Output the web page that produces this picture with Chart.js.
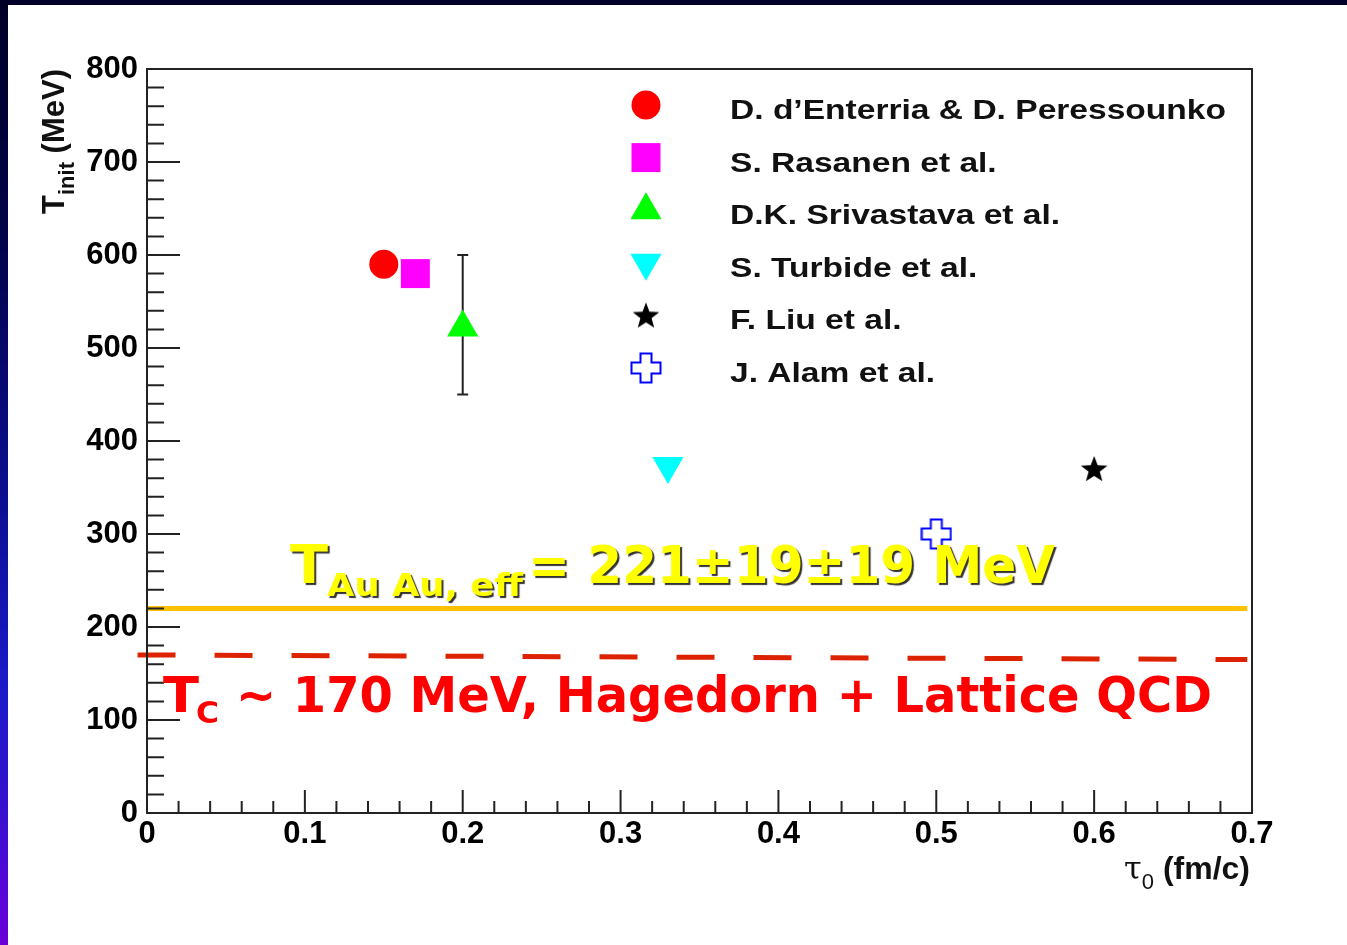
<!DOCTYPE html>
<html>
<head>
<meta charset="utf-8">
<script src="https://cdn.jsdelivr.net/npm/chart.js@4.4.1/dist/chart.umd.min.js"></script>
<style>
  html, body { margin: 0; padding: 0; background: #fff; }
  body { width: 1347px; height: 945px; position: relative; overflow: hidden; }
  #wrap { position: absolute; left: 0; top: 0; width: 1347px; height: 945px; }
  #topband { position: absolute; left: 0; top: 0; width: 1347px; height: 5px; background: #000028; }
  #leftband { position: absolute; left: 0; top: 0; width: 8px; height: 945px;
    background: linear-gradient(#000026 0%, #03034a 25%, #0c0c8a 50%, #1a1ac8 72%, #3810d0 86%, #6a00d8 100%); }
</style>
</head>
<body>
<div id="wrap"><canvas id="chart" width="1347" height="945"></canvas></div>
<div id="topband"></div>
<div id="leftband"></div>
<script>
// values
const authors = [
  "D. d\u2019Enterria & D. Peressounko",
  "S. Rasanen et al.",
  "D.K. Srivastava et al.",
  "S. Turbide et al.",
  "F. Liu et al.",
  "J. Alam et al."
];
const tau0 = [0.15, 0.17, 0.20, 0.33, 0.60, 0.50];
const tInit = [590, 580, 522, 373, 370, 300];
const tInitLow = [null, null, 450, null, null, null];
const tInitHigh = [null, null, 600, null, null, null];
const markerColors = ["#ff0000", "#ff00ff", "#00ff00", "#00ffff", "#000000", "#0000ff"];

const effX = [0, 0.697];
const effY = [220, 220];
const tcX = [-0.006, 0.697];
const tcY = [170, 165];

const xTickLabels = ["0", "0.1", "0.2", "0.3", "0.4", "0.5", "0.6", "0.7"];
const yTickLabels = ["0", "100", "200", "300", "400", "500", "600", "700", "800"];

function makeStar(size, color) {
  const c = document.createElement("canvas");
  c.width = c.height = size;
  const g = c.getContext("2d");
  const cx = size / 2, cy = size / 2 + 1, R = size / 2 - 1, r = R * 0.42;
  g.beginPath();
  for (let k = 0; k < 10; k++) {
    const ang = -Math.PI / 2 + k * Math.PI / 5;
    const rr = k % 2 ? r : R;
    g.lineTo(cx + rr * Math.cos(ang), cy + rr * Math.sin(ang));
  }
  g.closePath();
  g.fillStyle = color;
  g.fill();
  return c;
}

function makeOpenCross(size, arm, color) {
  const c = document.createElement("canvas");
  c.width = c.height = size;
  const g = c.getContext("2d");
  const h = size / 2 - 1.5, a = arm / 2;
  const pts = [[-a, -h], [a, -h], [a, -a], [h, -a], [h, a], [a, a], [a, h], [-a, h], [-a, a], [-h, a], [-h, -a], [-a, -a]];
  g.translate(size / 2, size / 2);
  g.beginPath();
  pts.forEach(p => g.lineTo(p[0], p[1]));
  g.closePath();
  g.lineWidth = 2;
  g.strokeStyle = color;
  g.stroke();
  return c;
}

const pointStyles = ["circle", "rect", "triangle", "triangle", makeStar(30, "#000"), makeOpenCross(32, 11, "#0000ff")];
const pointRadii = [14.5, 20.5, 18, 18, 14, 16];
const pointRotations = [0, 0, 0, 180, 0, 0];

const pointSets = authors.map((name, i) => ({
  label: name,
  data: [{ x: tau0[i], y: tInit[i] }],
  pointStyle: pointStyles[i],
  pointRadius: pointRadii[i],
  pointRotation: pointRotations[i],
  backgroundColor: markerColors[i],
  borderColor: markerColors[i],
  borderWidth: 0,
  showLine: false,
  order: 0,
  inLegend: true,
  errLow: tInitLow[i],
  errHigh: tInitHigh[i]
}));

const lineSets = [
  {
    label: "T eff",
    data: effX.map((x, i) => ({ x: x, y: effY[i] })),
    showLine: true, borderColor: "#ffc000", borderWidth: 5, pointRadius: 0,
    clip: false, order: 10
  },
  {
    label: "Tc",
    data: tcX.map((x, i) => ({ x: x, y: tcY[i] })),
    showLine: true, borderColor: "#dd2200", borderWidth: 5, borderDash: [38, 39],
    pointRadius: 0, clip: false, order: 11
  }
];

const tickFont = { family: "'Liberation Sans', Arial, sans-serif", weight: "bold", size: 31 };

// ROOT style frame with ticks on the inside
const frameTicks = {
  id: "frameTicks",
  afterDatasetsDraw(chart) {
    const { ctx, chartArea: a, scales: { x, y } } = chart;
    ctx.save();
    ctx.strokeStyle = "#222";
    ctx.lineWidth = 2;
    ctx.strokeRect(a.left, a.top, a.right - a.left, a.bottom - a.top);
    ctx.beginPath();
    for (let i = 0; i <= 35; i++) {
      const px = x.getPixelForValue(i * 0.02);
      const len = i % 5 === 0 ? 23 : 12;
      ctx.moveTo(px, a.bottom);
      ctx.lineTo(px, a.bottom - len);
    }
    for (let i = 0; i <= 40; i++) {
      const py = y.getPixelForValue(i * 20);
      const len = i % 5 === 0 ? 33 : 17;
      ctx.moveTo(a.left, py);
      ctx.lineTo(a.left + len, py);
    }
    ctx.stroke();
    ctx.restore();
  }
};

const errorBars = {
  id: "errorBars",
  beforeDatasetsDraw(chart) {
    const { ctx, scales: { x, y } } = chart;
    ctx.save();
    ctx.strokeStyle = "#222";
    ctx.lineWidth = 2;
    chart.data.datasets.forEach(ds => {
      if (ds.errLow == null) return;
      const px = x.getPixelForValue(ds.data[0].x);
      const lo = y.getPixelForValue(ds.errLow);
      const hi = y.getPixelForValue(ds.errHigh);
      ctx.beginPath();
      ctx.moveTo(px, lo); ctx.lineTo(px, hi);
      ctx.moveTo(px - 5.5, lo); ctx.lineTo(px + 5.5, lo);
      ctx.moveTo(px - 5.5, hi); ctx.lineTo(px + 5.5, hi);
      ctx.stroke();
    });
    ctx.restore();
  }
};

function fitText(ctx, text, x, y, width) {
  const w = ctx.measureText(text).width;
  ctx.save();
  ctx.translate(x, y);
  ctx.scale(width / w, 1);
  ctx.fillText(text, 0, 0);
  ctx.restore();
}

const legendBox = {
  id: "legendBox",
  afterDraw(chart) {
    const ctx = chart.ctx;
    ctx.save();
    ctx.font = "bold 28px 'Liberation Sans', Arial, sans-serif";
    ctx.textBaseline = "alphabetic";
    const sx = 496 / ctx.measureText(authors[0]).width;
    let row = 0;
    chart.data.datasets.forEach(ds => {
      if (!ds.inLegend) return;
      const cy = 105 + row * 52.6;
      ctx.fillStyle = ds.backgroundColor;
      ctx.strokeStyle = ds.borderColor;
      Chart.helpers.drawPoint(ctx, {
        pointStyle: ds.pointStyle, radius: ds.pointRadius, rotation: ds.pointRotation, borderWidth: 0
      }, 646, cy);
      ctx.fillStyle = "#111";
      ctx.save();
      ctx.translate(730, cy + 14);
      ctx.scale(sx, 1);
      ctx.fillText(ds.label, 0, 0);
      ctx.restore();
      row++;
    });
    ctx.restore();
  }
};

const axisTitles = {
  id: "axisTitles",
  afterDraw(chart) {
    const ctx = chart.ctx;
    ctx.save();
    ctx.fillStyle = "#111";
    ctx.textBaseline = "alphabetic";
    // y title, rotated, ends at top of frame
    const big = "bold 31px 'Liberation Sans', Arial, sans-serif";
    const small = "bold 22px 'Liberation Sans', Arial, sans-serif";
    ctx.font = big; const wT = ctx.measureText("T").width;
    ctx.font = small; const wS = ctx.measureText("init").width;
    ctx.font = big; const wR = ctx.measureText(" (MeV)").width;
    ctx.translate(64, chart.chartArea.top + wT + wS + wR);
    ctx.rotate(-Math.PI / 2);
    ctx.font = big; ctx.fillText("T", 0, 0);
    ctx.font = small; ctx.fillText("init", wT, 10);
    ctx.font = big; ctx.fillText(" (MeV)", wT + wS, 0);
    ctx.setTransform(1, 0, 0, 1, 0, 0);
    // x title, right aligned at frame end
    const tau = "32px 'DejaVu Serif', 'Liberation Serif', serif";
    const sub = "22px 'Liberation Sans', Arial, sans-serif";
    const unit = "bold 32px 'Liberation Sans', Arial, sans-serif";
    ctx.font = tau; const w1 = ctx.measureText("\u03c4").width;
    ctx.font = sub; const w2 = ctx.measureText("0").width;
    ctx.font = unit; const w3 = ctx.measureText(" (fm/c)").width;
    let x0 = chart.chartArea.right - 2 - w1 - w2 - w3;
    ctx.font = tau; ctx.fillText("\u03c4", x0, 879);
    ctx.font = sub; ctx.fillText("0", x0 + w1, 889);
    ctx.font = unit; ctx.fillText(" (fm/c)", x0 + w1 + w2, 879);
    ctx.restore();
  }
};

const slideNotes = {
  id: "slideNotes",
  afterDraw(chart) {
    const ctx = chart.ctx;
    ctx.save();
    ctx.textBaseline = "alphabetic";
    // yellow label with dark drop shadow
    ctx.fillStyle = "#ffff00";
    ctx.shadowColor = "rgba(40,40,40,0.95)";
    ctx.shadowOffsetX = 2;
    ctx.shadowOffsetY = 2;
    ctx.shadowBlur = 1;
    ctx.font = "bold 54px 'DejaVu Sans', Verdana, sans-serif";
    fitText(ctx, "T", 290, 583, 38);
    ctx.font = "bold 32px 'DejaVu Sans', Verdana, sans-serif";
    fitText(ctx, "Au Au, eff", 327, 596, 196);
    ctx.font = "bold 52px 'DejaVu Sans', Verdana, sans-serif";
    fitText(ctx, "= 221\u00b119\u00b119 MeV", 528, 583, 527);
    // red label
    ctx.shadowColor = "transparent";
    ctx.fillStyle = "#ff0000";
    ctx.font = "bold 50px 'DejaVu Sans', Verdana, sans-serif";
    fitText(ctx, "T", 163, 712, 36);
    ctx.font = "bold 30px 'DejaVu Sans', Verdana, sans-serif";
    fitText(ctx, "C", 196, 723, 23);
    ctx.font = "bold 50px 'DejaVu Sans', Verdana, sans-serif";
    fitText(ctx, "~ 170 MeV, Hagedorn + Lattice QCD", 236, 712, 976);
    ctx.restore();
  }
};

new Chart(document.getElementById("chart").getContext("2d"), {
  type: "scatter",
  data: { datasets: pointSets.concat(lineSets) },
  options: {
    responsive: false,
    animation: false,
    events: [],
    layout: { padding: { top: 69, right: 95, bottom: 0, left: 0 } },
    plugins: { legend: { display: false }, tooltip: { enabled: false } },
    scales: {
      x: {
        type: "linear", min: 0, max: 0.7,
        grid: { display: false, drawTicks: false },
        border: { display: false },
        ticks: {
          stepSize: 0.1, maxRotation: 0, padding: 3, color: "#000", font: tickFont,
          callback: v => xTickLabels[Math.round(v * 10)]
        },
        afterFit: s => { s.height = 945 - 813; }
      },
      y: {
        type: "linear", min: 0, max: 800,
        grid: { display: false, drawTicks: false },
        border: { display: false },
        ticks: {
          stepSize: 100, padding: 9, color: "#000", font: tickFont,
          callback: v => yTickLabels[Math.round(v / 100)]
        },
        afterFit: s => { s.width = 147; }
      }
    }
  },
  plugins: [errorBars, frameTicks, legendBox, axisTitles, slideNotes]
});
</script>
</body>
</html>
